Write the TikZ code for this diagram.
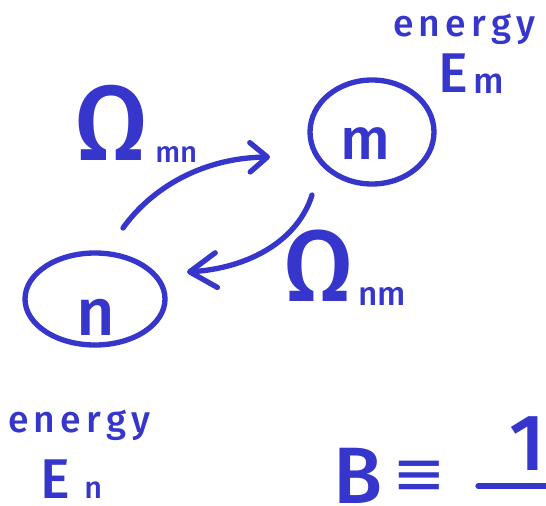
\documentclass[tikz,border=0pt]{standalone}
\usepackage{fontspec}
\setmainfont{Fira Sans}[BoldFont={Fira Sans Medium}]
\newfontfamily\symfont{DejaVu Sans}
\usetikzlibrary{arrows.meta,shapes.geometric}
\definecolor{ink}{HTML}{3636CC}
\begin{document}
\begin{tikzpicture}[x=0.75pt,y=-0.75pt,
  stroke/.style={draw=ink, line width=4pt, line cap=round, line join=round},
  state/.style={ellipse, draw=ink, line width=4pt, inner sep=0pt},
  lbl/.style={text=ink, inner sep=0pt, anchor=base west},
  wide/.style={font=\fontsize{28}{30}\selectfont\bfseries\addfontfeatures{LetterSpace=14}}]
\useasboundingbox (0,0) rectangle (546,506);
% states
\node[state, minimum width=93pt, minimum height=78pt] (m) at (372,132) {};
\node[state, minimum width=105pt, minimum height=69pt] (n) at (95,299) {};
\node[lbl, font=\fontsize{44}{46}\selectfont\bfseries] (mt) at (340,160) {m};
\node[lbl, font=\fontsize{50}{52}\selectfont\bfseries] (nt) at (76,335) {n};
% arrows
\coordinate (a1s) at (123,228);
\coordinate (a1e) at (270,157);
\coordinate (a2s) at (312,195);
\coordinate (a2e) at (187,272);
\draw[stroke, -{Straight Barb[length=13pt,width=22pt,round]}]
  (a1s) .. controls (150,190) and (200,158) .. (a1e);
\draw[stroke, -{Straight Barb[length=20pt,width=26pt,round]}]
  (a2s) .. controls (298,240) and (250,268) .. (a2e);
% rate labels
\node[lbl, font=\fontsize{80}{82}\selectfont\bfseries] (om1) at (74,161) {Ω};
\node[lbl, font=\fontsize{22}{24}\selectfont\bfseries] (mn) at (155,163) {mn};
\node[lbl, font=\fontsize{76}{78}\selectfont\bfseries] (om2) at (283,301) {Ω};
\node[lbl, font=\fontsize{25}{27}\selectfont\bfseries] (nm) at (358,305) {nm};
% energies
\node[lbl, wide] (e1) at (393,37) {energy};
\node[lbl, font=\fontsize{42}{44}\selectfont\bfseries] (E1) at (438,93) {E};
\node[lbl, font=\fontsize{27}{29}\selectfont\bfseries] (m1) at (473,94) {m};
\node[lbl, wide] (e2) at (8,432) {energy};
\node[lbl, font=\fontsize{42}{44}\selectfont\bfseries] (E2) at (40,498) {E};
\node[lbl, font=\fontsize{23}{25}\selectfont\bfseries] (n2) at (84,498) {n};
% B = 1/...
\node[lbl, font=\fontsize{60}{62}\selectfont\bfseries] (B) at (333,503) {B};
\node[text=ink, inner sep=0pt, font=\symfont\fontsize{48}{50}\selectfont] (eq) at (419,478) {≡};
\node[text=ink, inner sep=0pt, anchor=base, font=\fontsize{60}{62}\selectfont\bfseries] (one) at (527,470) {1};
\coordinate (barL) at (478,486);
\coordinate (barR) at (548,486);
\draw[stroke] (barL) -- (barR);
\end{tikzpicture}
\end{document}
